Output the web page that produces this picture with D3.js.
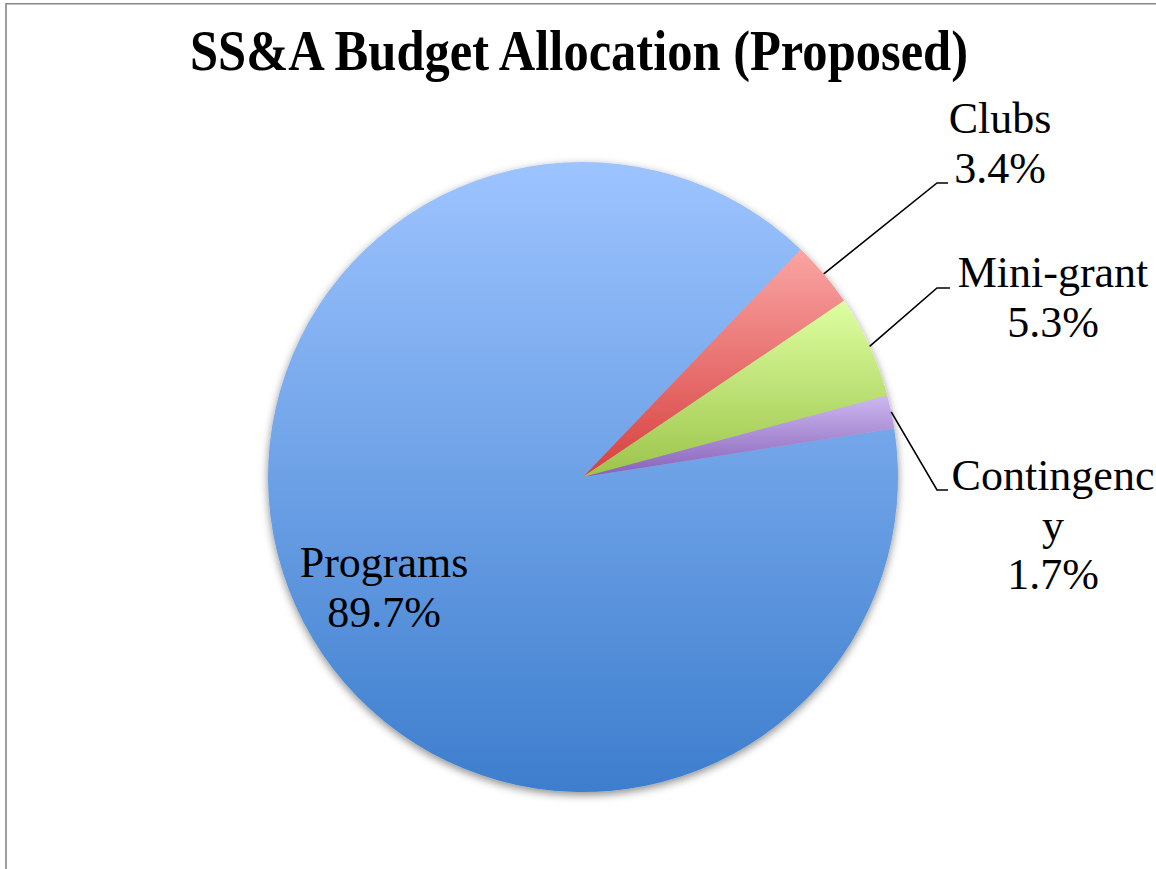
<!DOCTYPE html>
<html>
<head>
<meta charset="utf-8">
<script src="https://cdn.jsdelivr.net/npm/d3@7"></script>
<style>
  html, body { margin: 0; padding: 0; background: #fff; }
  svg { display: block; }
</style>
</head>
<body>
<svg id="chart" width="1156" height="869"></svg>
<script>
// ---- data ----
const categories = ["Programs", "Clubs", "Mini-grant", "Contingency"];
const values = [89.7, 3.4, 5.3, 1.7];
const percentLabels = ["89.7%", "3.4%", "5.3%", "1.7%"];
const titleText = "SS&A Budget Allocation (Proposed)";

// ---- styles ----
const gradTop = ["#9DC4FF", "#FAA5A4", "#DEFFA2", "#CDB8F0"];
const gradBottom = ["#3D7ECD", "#D6403E", "#9CC44A", "#8560B8"];

const W = 1156, H = 869;
const cx = 583, cy = 477, R = 315;
const startDeg = 81.14;

const svg = d3.select("#chart");

// border
svg.append("path")
  .attr("d", `M6,${H} L6,3.8 L${W},3.8`)
  .attr("fill", "none").attr("stroke", "#878787").attr("stroke-width", 1.6);

const defs = svg.append("defs");
categories.forEach((c, i) => {
  const g = defs.append("linearGradient").attr("id", "g" + i)
    .attr("x1", 0).attr("y1", 0).attr("x2", 0).attr("y2", 1);
  g.append("stop").attr("offset", "0%").attr("stop-color", gradTop[i]);
  g.append("stop").attr("offset", "100%").attr("stop-color", gradBottom[i]);
});
const f = defs.append("filter").attr("id", "shadow")
  .attr("x", "-10%").attr("y", "-10%").attr("width", "120%").attr("height", "120%");
f.append("feDropShadow").attr("dx", 0).attr("dy", 3).attr("stdDeviation", 4)
  .attr("flood-color", "#000").attr("flood-opacity", 0.45);

// title
svg.append("text")
  .attr("x", 579).attr("y", 70)
  .attr("text-anchor", "middle")
  .attr("font-family", "'Liberation Serif', 'DejaVu Serif', serif")
  .attr("font-weight", "bold")
  .attr("font-size", 56)
  .attr("textLength", 778).attr("lengthAdjust", "spacingAndGlyphs")
  .attr("fill", "#000")
  .text(titleText);

const rad = d => d * Math.PI / 180;
const pie = d3.pie().sort(null).value(d => d)
  .startAngle(rad(startDeg)).endAngle(rad(startDeg + 360));
const arcs = pie(values);
const arc = d3.arc().innerRadius(0).outerRadius(R);

const gPie = svg.append("g").attr("transform", `translate(${cx},${cy})`)
  .attr("filter", "url(#shadow)");
gPie.selectAll("path").data(arcs).enter().append("path")
  .attr("d", arc)
  .attr("fill", (d, i) => `url(#g${i})`);

// labels
const fontFam = "'Liberation Serif', 'DejaVu Serif', serif";
const fs = 44;
const lineH = 49.5;
// layout: text center x, first baseline y, lines, leader elbow
const labelLayout = [
  { x: 384, y: 577, lines: [categories[0], percentLabels[0]], leader: null },
  { x: 1000, y: 133, lines: [categories[1], percentLabels[1]], leader: { ex: 937, hx: 948, y: 183 } },
  { x: 1053, y: 287, lines: [categories[2], percentLabels[2]], leader: { ex: 937, hx: 950, y: 288 } },
  { x: 1053, y: 490, lines: ["Contingenc", "y", percentLabels[3]], leader: { ex: 937, hx: 948, y: 490 } }
];

labelLayout.forEach((L, i) => {
  const t = svg.append("text")
    .attr("text-anchor", "middle")
    .attr("font-family", fontFam)
    .attr("font-size", fs)
    .attr("fill", "#000");
  L.lines.forEach((ln, k) => {
    t.append("tspan").attr("x", L.x).attr("y", L.y + k * lineH).text(ln);
  });
  if (L.leader) {
    const a = arcs[i];
    const mid = (a.startAngle + a.endAngle) / 2;
    const sx = cx + Math.sin(mid) * R;
    const sy = cy - Math.cos(mid) * R;
    svg.append("path")
      .attr("d", `M${sx},${sy} L${L.leader.ex},${L.leader.y} L${L.leader.hx},${L.leader.y}`)
      .attr("fill", "none").attr("stroke", "#000").attr("stroke-width", 1.6);
  }
});
</script>
</body>
</html>
